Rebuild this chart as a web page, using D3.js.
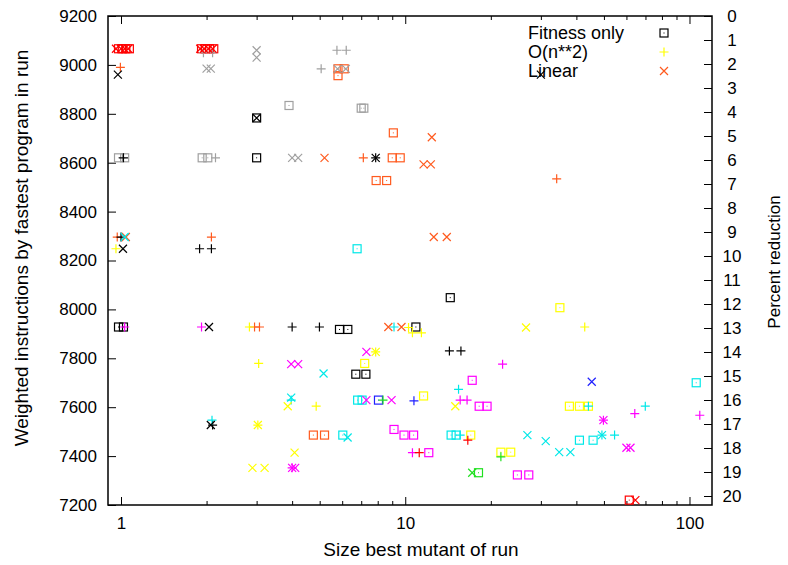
<!DOCTYPE html>
<html>
<head>
<meta charset="utf-8">
<script src="https://cdn.jsdelivr.net/npm/d3@7"></script>
<style>
  body { margin: 0; background: #fff; }
  svg text { font-family: "Liberation Sans", Arial, sans-serif; fill: #000; }
</style>
</head>
<body>
<svg id="chart" width="788" height="565"></svg>
<script>
// colour groups used by the points
const palette = {
  red: "#ff0000", gray: "#a0a0a0", black: "#000000", orange: "#ff5a1e",
  cyan: "#00e8e8", magenta: "#ff00ff", yellow: "#ffff00", blue: "#2020ff", green: "#20e020"
};

// Fitness only (box with dot): [size, weighted instructions, colour]
const fitnessOnly = [
  [0.98, 9066, "red"], [1.01, 9066, "red"], [1.04, 9066, "red"], [1.07, 9066, "red"],
  [1.92, 9066, "red"], [1.98, 9066, "red"], [2.05, 9066, "red"], [2.12, 9066, "red"],
  [3.9, 8834, "gray"], [7.0, 8823, "gray"], [7.15, 8823, "gray"],
  [0.98, 8620, "gray"], [1.03, 8620, "gray"], [1.93, 8620, "gray"], [2.02, 8620, "gray"],
  [3.0, 8783, "black"], [3.0, 8620, "black"], [0.98, 7928, "black"], [1.02, 7928, "black"],
  [5.87, 7918, "black"], [6.28, 7918, "black"], [10.9, 7928, "black"], [14.4, 8048, "black"],
  [6.7, 7735, "black"], [7.27, 7735, "black"],
  [5.8, 8984, "orange"], [6.1, 8984, "orange"], [5.8, 8956, "orange"], [9.08, 8722, "orange"],
  [9.0, 8620, "orange"], [9.6, 8620, "orange"], [7.9, 8527, "orange"], [8.6, 8527, "orange"],
  [4.75, 7486, "orange"], [5.2, 7486, "orange"],
  [6.77, 8248, "cyan"], [6.8, 7629, "cyan"], [7.05, 7629, "cyan"], [6.03, 7486, "cyan"],
  [14.5, 7486, "cyan"], [15.1, 7486, "cyan"], [41, 7465, "cyan"], [45.8, 7465, "cyan"],
  [105.6, 7700, "cyan"],
  [7.2, 7779, "yellow"], [35, 8007, "yellow"], [11.6, 7646, "yellow"], [17.0, 7486, "yellow"],
  [37.8, 7604, "yellow"], [41, 7604, "yellow"], [44.1, 7604, "yellow"],
  [21.7, 7416, "yellow"], [23.5, 7416, "yellow"],
  [17.2, 7710, "magenta"], [18.2, 7604, "magenta"], [19.4, 7604, "magenta"], [9.13, 7509, "magenta"],
  [9.9, 7486, "magenta"], [10.7, 7486, "magenta"], [12.1, 7414, "magenta"],
  [24.8, 7323, "magenta"], [27.2, 7323, "magenta"],
  [8.05, 7629, "blue"], [18.1, 7332, "green"], [61.4, 7220, "red"]
];

// O(n**2) (plus)
const quadratic = [
  [5.75, 9060, "gray"], [6.2, 9060, "gray"], [5.06, 8984, "gray"], [1.95, 9050, "gray"],
  [2.1, 9050, "gray"], [2.15, 8620, "gray"],
  [0.995, 8990, "orange"], [7.12, 8620, "orange"], [34.1, 8534, "orange"], [0.97, 8296, "orange"],
  [2.08, 8296, "orange"], [2.95, 7928, "orange"], [3.07, 7928, "orange"],
  [1.02, 8620, "black"], [7.87, 8620, "black"], [1.0, 8296, "black"], [1.89, 8248, "black"],
  [2.08, 8248, "black"], [4.0, 7928, "black"], [4.99, 7928, "black"], [14.3, 7830, "black"],
  [15.7, 7830, "black"], [2.1, 7527, "black"],
  [0.96, 8248, "yellow"], [2.83, 7928, "yellow"], [10.27, 7926, "yellow"], [10.6, 7904, "yellow"],
  [11.4, 7904, "yellow"], [42.8, 7928, "yellow"], [3.05, 7779, "yellow"], [7.87, 7826, "yellow"],
  [4.86, 7604, "yellow"], [3.03, 7527, "yellow"],
  [1.03, 7928, "magenta"], [1.92, 7928, "magenta"], [22.0, 7776, "magenta"], [15.6, 7629, "magenta"],
  [16.5, 7629, "magenta"], [64.2, 7574, "magenta"], [108.7, 7567, "magenta"], [49.8, 7547, "magenta"],
  [10.6, 7414, "magenta"], [4.0, 7352, "magenta"],
  [9.13, 7928, "cyan"], [15.4, 7673, "cyan"], [3.97, 7629, "cyan"], [2.09, 7547, "cyan"],
  [44.1, 7604, "cyan"], [69.9, 7604, "cyan"], [15.6, 7486, "cyan"], [49.2, 7486, "cyan"],
  [54.5, 7486, "cyan"],
  [10.73, 7626, "blue"], [8.35, 7629, "green"], [21.7, 7397, "green"],
  [11.2, 7414, "red"], [16.6, 7465, "red"]
];

// Linear (cross)
const linear = [
  [0.96, 9066, "red"], [1.0, 9066, "red"], [1.03, 9066, "red"], [1.06, 9066, "red"],
  [1.9, 9066, "red"], [1.96, 9066, "red"], [2.03, 9066, "red"], [2.1, 9066, "red"],
  [2.0, 8985, "gray"], [2.07, 8985, "gray"], [3.0, 9060, "gray"], [3.0, 9030, "gray"],
  [5.78, 8984, "gray"], [6.18, 8984, "gray"], [4.0, 8620, "gray"], [4.2, 8620, "gray"],
  [0.975, 8960, "black"], [30, 8960, "black"], [3.0, 8783, "black"], [7.87, 8620, "black"],
  [1.016, 8248, "black"], [2.04, 7928, "black"], [2.07, 7527, "black"],
  [12.4, 8704, "orange"], [5.2, 8620, "orange"], [11.6, 8593, "orange"], [12.3, 8593, "orange"],
  [12.6, 8296, "orange"], [14.0, 8296, "orange"], [1.04, 8296, "orange"], [8.72, 7928, "orange"],
  [9.7, 7928, "orange"],
  [1.03, 8296, "cyan"], [5.16, 7738, "cyan"], [3.97, 7639, "cyan"], [6.27, 7476, "cyan"],
  [26.9, 7486, "cyan"], [49.2, 7486, "cyan"], [31.2, 7461, "cyan"], [34.8, 7416, "cyan"],
  [38.1, 7416, "cyan"],
  [7.3, 7826, "magenta"], [3.97, 7776, "magenta"], [4.2, 7776, "magenta"], [7.3, 7629, "magenta"],
  [8.95, 7629, "magenta"], [49.8, 7547, "magenta"], [60, 7434, "magenta"], [62, 7434, "magenta"],
  [4.0, 7352, "magenta"], [4.1, 7352, "magenta"],
  [7.87, 7826, "yellow"], [26.6, 7926, "yellow"], [3.86, 7604, "yellow"], [3.03, 7527, "yellow"],
  [4.08, 7414, "yellow"], [2.9, 7352, "yellow"], [3.2, 7352, "yellow"], [15.0, 7604, "yellow"],
  [45.3, 7704, "blue"], [17.2, 7332, "green"], [64.5, 7220, "red"]
];

const seriesNames = ["Fitness only", "O(n**2)", "Linear"];
const legendColors = ["black", "yellow", "orange"];
const xMajorTicks = [1, 10, 100];
const yTicks = d3.range(7200, 9201, 200);
const y2Ticks = d3.range(0, 21, 1);

const svg = d3.select("#chart");
const mLeft = 108, mRight = 712, mTop = 16, mBottom = 505;

const x = d3.scaleLog().domain([0.9, 120]).range([mLeft, mRight]);
const y = d3.scaleLinear().domain([7200, 9200]).range([mBottom, mTop]);
const y2 = d3.scaleLinear().domain([0, 20]).range([mTop, mTop + 480]);

const xMinor = [];
[1, 10, 100].forEach(dec => d3.range(2, 10).forEach(k => { if (dec * k <= 120) xMinor.push(dec * k); }));

// axes (ticks point inward like gnuplot)
const axisStyle = g => {
  g.select(".domain").remove();
  g.selectAll("line").attr("stroke", "#000").attr("stroke-width", 1);
  g.selectAll("text").attr("font-size", 17);
};

svg.append("g").attr("transform", `translate(0,${mBottom})`)
  .call(d3.axisBottom(x).tickValues(xMajorTicks).tickSize(-8).tickPadding(12).tickFormat(d3.format("d")))
  .call(axisStyle);
svg.append("g").attr("transform", `translate(0,${mBottom})`)
  .call(d3.axisBottom(x).tickValues(xMinor).tickSize(-4).tickFormat(""))
  .call(axisStyle);
svg.append("g").attr("transform", `translate(0,${mTop})`)
  .call(d3.axisTop(x).tickValues(xMajorTicks).tickSize(-8).tickFormat(""))
  .call(axisStyle);
svg.append("g").attr("transform", `translate(0,${mTop})`)
  .call(d3.axisTop(x).tickValues(xMinor).tickSize(-4).tickFormat(""))
  .call(axisStyle);
svg.append("g").attr("transform", `translate(${mLeft},0)`)
  .call(d3.axisLeft(y).tickValues(yTicks).tickSize(-8).tickPadding(11).tickFormat(d3.format("d")))
  .call(axisStyle);
svg.append("g").attr("transform", `translate(${mRight},0)`)
  .call(d3.axisRight(y2).tickValues(y2Ticks).tickSize(-8).tickPadding(20))
  .call(axisStyle)
  .call(g => g.selectAll("text").attr("text-anchor", "middle"));

svg.append("rect")
  .attr("x", mLeft).attr("y", mTop)
  .attr("width", mRight - mLeft).attr("height", mBottom - mTop)
  .attr("fill", "none").attr("stroke", "#000").attr("stroke-width", 1.5);

// point shapes
const shapes = {
  box: g => {
    g.append("rect").attr("x", -4).attr("y", -4).attr("width", 8).attr("height", 8)
      .attr("fill", "none").attr("stroke", d => palette[d[2]]);
    g.append("rect").attr("x", -0.5).attr("y", -0.5).attr("width", 1).attr("height", 1)
      .attr("fill", d => palette[d[2]]);
  },
  plus: g => g.append("path").attr("d", "M-4.5,0H4.5M0,-4.5V4.5")
    .attr("stroke", d => palette[d[2]]).attr("fill", "none"),
  cross: g => g.append("path").attr("d", "M-4,-4L4,4M-4,4L4,-4")
    .attr("stroke", d => palette[d[2]]).attr("fill", "none")
};

const plot = svg.append("g").attr("stroke-width", 1.2);
[[fitnessOnly, "box"], [quadratic, "plus"], [linear, "cross"]].forEach(([data, shape]) => {
  plot.append("g").selectAll("g")
    .data(data)
    .join("g")
    .attr("transform", d => `translate(${x(d[0])},${y(d[1])})`)
    .call(shapes[shape]);
});

// legend
const legend = svg.append("g");
seriesNames.forEach((name, i) => {
  const ly = 33 + i * 19;
  legend.append("text").attr("x", 528).attr("y", ly).attr("dy", "0.35em")
    .attr("font-size", 18).text(name);
  const key = legend.append("g").datum([0, 0, legendColors[i]])
    .attr("transform", `translate(664,${ly})`).attr("stroke-width", 1.2);
  key.call(shapes[["box", "plus", "cross"][i]]);
});

// axis titles
svg.append("text").attr("x", 421).attr("y", 556)
  .attr("text-anchor", "middle").attr("font-size", 19).text("Size best mutant of run");
svg.append("text").attr("transform", "translate(28,248) rotate(-90)")
  .attr("text-anchor", "middle").attr("font-size", 19).text("Weighted instructions by fastest program in run");
svg.append("text").attr("transform", "translate(780,262) rotate(-90)")
  .attr("text-anchor", "middle").attr("font-size", 17).text("Percent reduction");
</script>
</body>
</html>
